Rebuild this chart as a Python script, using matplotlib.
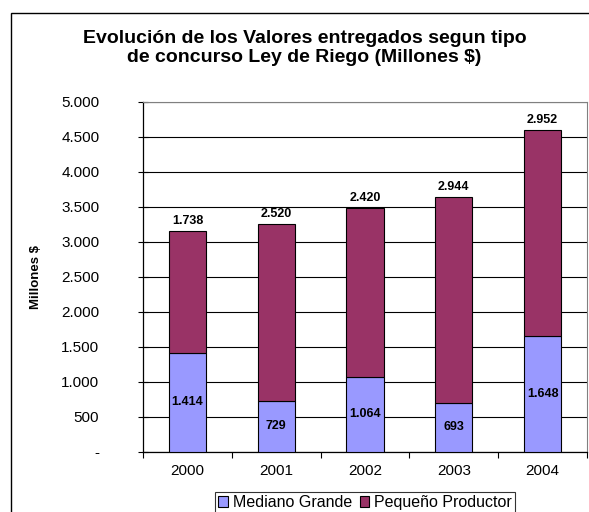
import numpy as np
import matplotlib
matplotlib.use("Agg")
import matplotlib.pyplot as plt
from matplotlib.patches import Rectangle

plt.rcParams['font.family'] = ['Liberation Sans', 'DejaVu Sans']

years = ["2000", "2001", "2002", "2003", "2004"]
mediano_grande = [1414, 729, 1064, 693, 1648]
pequeno_productor = [1738, 2520, 2420, 2944, 2952]
ytick_vals = [0, 500, 1000, 1500, 2000, 2500, 3000, 3500, 4000, 4500, 5000]
ytick_labels = ["-", "500", "1.000", "1.500", "2.000", "2.500", "3.000",
                "3.500", "4.000", "4.500", "5.000"]


def fmt(v):
    return f"{v:,}".replace(",", ".")


fig = plt.figure(figsize=(5.89, 5.12), dpi=100)
ax = fig.add_axes([0.2428, 0.1178, 0.7538, 0.6836])

x = np.arange(len(years))
ax.bar(x, mediano_grande, width=0.42, color="#9999FF", edgecolor="black",
       linewidth=0.8, label="Mediano Grande", zorder=3)
ax.bar(x, pequeno_productor, width=0.42, bottom=mediano_grande,
       color="#993366", edgecolor="black", linewidth=0.8,
       label="Pequeño Productor", zorder=3)

for i in range(len(years)):
    ax.text(x[i], mediano_grande[i] / 2, fmt(mediano_grande[i]), ha="center",
            va="center", fontsize=9, fontweight="bold", zorder=4)
    ax.annotate(fmt(pequeno_productor[i]),
                (x[i], mediano_grande[i] + pequeno_productor[i]),
                xytext=(0, 3), textcoords="offset points", ha="center",
                va="bottom", fontsize=9, fontweight="bold")

ax.set_xlim(-0.5, len(years) - 0.5)
ax.set_ylim(0, 5000)
ax.set_yticks(ytick_vals)
ax.set_yticklabels(ytick_labels, fontsize=11)
ax.tick_params(axis="y", direction="inout", length=7, width=0.8, pad=28)
ax.yaxis.grid(True, color="black", linewidth=0.8, zorder=0)

ax.set_xticks(x)
ax.set_xticklabels(years, fontsize=11)
ax.set_xticks(np.arange(-0.5, len(years)), minor=True)
ax.tick_params(axis="x", which="major", length=0, pad=9)
ax.tick_params(axis="x", which="minor", direction="out", length=4, width=0.8)

for s in ["top", "right"]:
    ax.spines[s].set_color("#808080")
for s in ["left", "bottom"]:
    ax.spines[s].set_color("black")
    ax.spines[s].set_linewidth(0.9)

ax.set_ylabel("Millones $", fontsize=9.5, fontweight="bold")
ax.yaxis.set_label_coords(-0.228, 0.5)

fig.text(0.517, 0.907, "Evolución de los Valores entregados segun tipo\n"
         "de concurso Ley de Riego (Millones $)", ha="center", va="center",
         fontsize=14, fontweight="bold", linespacing=1.15)

leg = ax.legend(loc="upper center", bbox_to_anchor=(0.5, -0.115), ncol=2,
                fontsize=11.5, frameon=True, fancybox=False, edgecolor="black",
                handlelength=0.6, handleheight=0.6, handletextpad=0.3,
                columnspacing=0.5, borderpad=0.2, borderaxespad=0)
leg.get_frame().set_linewidth(0.8)

fig.patches.append(Rectangle((11 / 589, -0.1), 1.2, 1 - 12.5 / 512 + 0.1,
                             transform=fig.transFigure, fill=False,
                             edgecolor="black", linewidth=1.0))

fig.savefig("out.png", dpi=100)
